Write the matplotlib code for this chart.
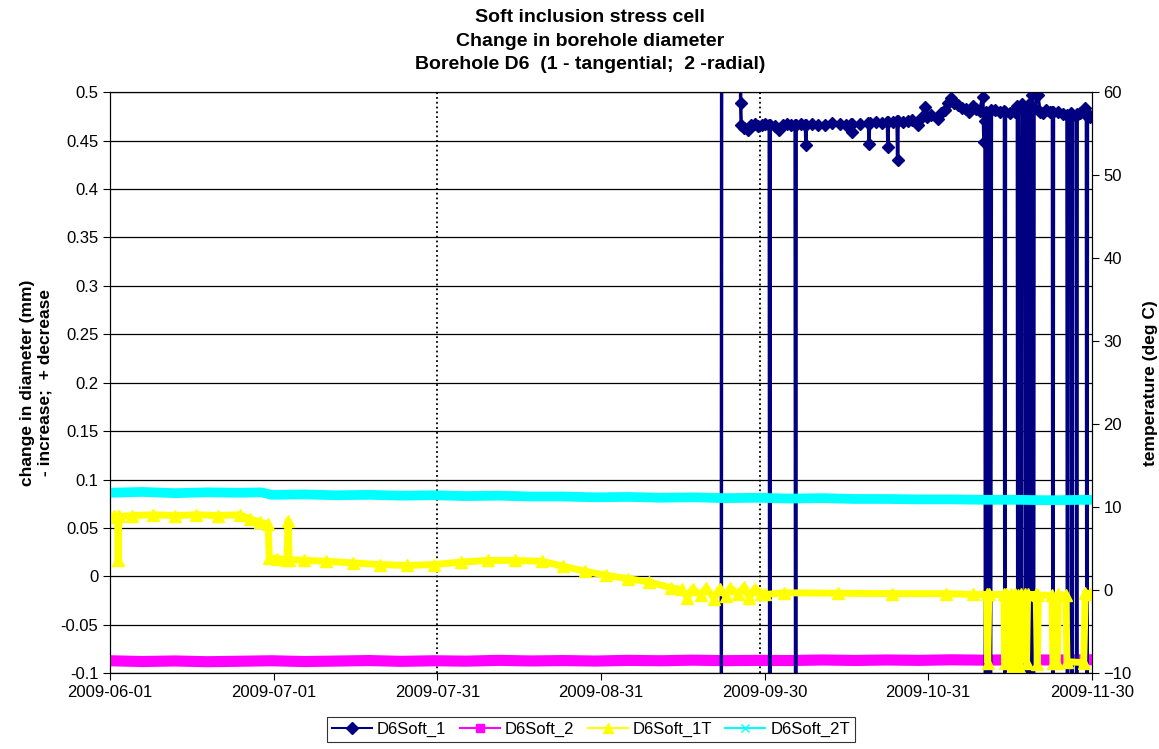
import numpy as np
import matplotlib
matplotlib.use('Agg')
from matplotlib import pyplot as plt
from matplotlib.lines import Line2D

# ---- data (days after 2009-06-01) ----
tick_labels = ['2009-06-01', '2009-07-01', '2009-07-31', '2009-08-31',
               '2009-09-30', '2009-10-31', '2009-11-30']

# D6Soft_1 (mm, left axis); -0.3 / 0.8 are off-scale readings
d1_days = [113.3, 113.4, 116.85, 116.9, 117.0, 117.6, 118.2, 118.9, 119.5, 120.2,
           120.8, 121.5, 122.2, 122.3, 122.4, 123.2, 124.0, 124.7, 125.5, 126.3,
           127.0, 127.1, 127.2, 128.1, 128.9, 129.0, 129.1, 130.1, 131.2, 132.5,
           133.8, 135.3, 136.4, 137.4, 137.5, 137.6, 139.0, 140.6, 140.7, 140.8,
           142.0, 143.1, 144.1, 144.2, 144.3, 145.1, 145.9, 146.0, 146.1, 147.0,
           148.0, 148.6, 149.7, 150.4, 151.0, 151.4, 152.2, 153.4, 154.1, 154.7,
           155.3, 155.9, 156.5, 157.2, 157.9, 158.6, 159.2, 159.9, 160.5, 161.2,
           161.8, 162.0, 162.2, 162.3, 162.4, 162.7, 162.8, 163.2, 163.4, 164.0,
           164.9, 165.8, 165.9, 166.0, 166.8, 167.7, 168.2, 168.3, 168.4, 169.0,
           169.1, 169.7, 169.8, 169.9, 170.4, 170.5, 170.6, 170.9, 171.2, 171.3,
           172.0, 172.4, 173.0, 173.5, 174.2, 174.7, 174.8, 174.9, 175.7, 176.6,
           177.4, 177.5, 177.6, 178.2, 178.3, 178.4, 179.1, 179.2, 179.3, 179.8,
           180.7, 181.0, 181.1, 181.2, 181.6]
d1_vals = [-0.3, 0.8, 0.8, 0.489, 0.466, 0.463, 0.461, 0.466, 0.467, 0.465,
           0.466, 0.467, 0.466, -0.3, 0.466, 0.465, 0.461, 0.466, 0.467, 0.466,
           0.466, -0.3, 0.466, 0.467, 0.466, 0.445, 0.466, 0.467, 0.466, 0.466,
           0.468, 0.467, 0.466, 0.467, 0.459, 0.467, 0.467, 0.468, 0.446, 0.468,
           0.469, 0.468, 0.469, 0.443, 0.469, 0.469, 0.470, 0.430, 0.470, 0.469,
           0.470, 0.471, 0.466, 0.473, 0.485, 0.474, 0.476, 0.472, 0.478, 0.482,
           0.489, 0.494, 0.489, 0.487, 0.484, 0.483, 0.480, 0.486, 0.483, 0.481,
           0.495, 0.449, 0.470, -0.3, 0.480, -0.3, 0.478, -0.3, 0.482, 0.482,
           0.479, 0.481, -0.3, 0.480, 0.478, 0.480, 0.486, -0.3, 0.484, -0.3,
           0.488, 0.483, -0.3, 0.482, 0.488, -0.3, 0.486, 0.497, -0.3, 0.484,
           0.497, 0.480, 0.478, 0.482, 0.479, 0.480, -0.3, 0.479, 0.479, 0.477,
           0.476, -0.3, 0.475, 0.478, -0.3, 0.476, 0.475, -0.3, 0.477, 0.478,
           0.484, 0.476, -0.3, 0.478, 0.474]

# D6Soft_2 (mm, left axis)
d2_days = [0, 6, 12, 18, 24, 30, 36, 42, 48, 54, 60, 66, 72, 78, 84, 90, 96,
           102, 108, 114, 120, 126, 132, 138, 144, 150, 156, 162, 168, 174, 181.6]
d2_vals = [-0.0870, -0.0878, -0.0872, -0.0880, -0.0875, -0.0870, -0.0878, -0.0873,
           -0.0868, -0.0876, -0.0870, -0.0874, -0.0866, -0.0872, -0.0868, -0.0873,
           -0.0866, -0.0870, -0.0864, -0.0869, -0.0866, -0.0868, -0.0862, -0.0867,
           -0.0862, -0.0866, -0.0860, -0.0864, -0.0859, -0.0862, -0.0860]

# D6Soft_1T (deg C, right axis)
t1_days = [0.0, 0.8, 1.4, 1.5, 1.6, 4, 8, 12, 16, 20, 24, 26, 27.8, 29.3, 29.5,
           31, 32.8, 33.0, 33.2, 36, 40, 45, 50, 55, 60, 65, 70, 75, 80, 84, 88,
           92, 96, 100, 104, 106, 107, 108, 109.5, 110.5, 112, 113, 114.2, 115,
           116.5, 117.5, 118.5, 119.5, 120.7, 121.5, 125, 135, 145, 155, 160,
           162.5, 162.7, 162.9, 165.7, 165.9, 166.1, 167.0, 167.2, 167.5, 167.7,
           168.4, 168.6, 168.8, 169.7, 169.9, 170.1, 171.7, 171.9, 172.1, 174.6,
           174.8, 175.6, 175.8, 177.2, 177.4, 180.5, 180.8, 181.6]
t1_vals = [8.8, 9.0, 8.9, 3.6, 8.9, 9.0, 9.1, 9.0, 9.1, 9.0, 9.1, 8.6, 8.2, 8.0, 3.9,
           3.8, 3.7, 8.4, 3.7, 3.6, 3.5, 3.3, 3.1, 3.0, 3.1, 3.4, 3.6, 3.6, 3.5, 2.9, 2.3,
           1.8, 1.4, 1.0, 0.3, 0.1, -0.9, 0.2, -0.6, 0.3, -1.0, 0.2, -0.7, 0.3,
           -0.5, 0.4, -0.9, 0.2, -0.4, -0.5, -0.3, -0.35, -0.4, -0.4, -0.5,
           -0.5, -8.7, -0.5, -0.5, -8.8, -0.5, -0.5, -9.3, -8.9, -0.5,
           -0.6, -9.5, -0.5, -0.5, -8.7, -0.5, -0.5, -8.9, -0.6, -0.6,
           -8.7, -8.8, -0.5, -0.6, -8.6, -8.7, -0.3, -0.4]

# D6Soft_2T (deg C, right axis)
t2_days = [0, 6, 12, 18, 24, 28, 30, 36, 42, 48, 54, 60, 66, 72, 78, 84, 90, 96,
           102, 108, 114, 120, 126, 132, 138, 144, 150, 156, 162, 168, 174, 181.6]
t2_vals = [11.75, 11.85, 11.7, 11.8, 11.75, 11.8, 11.5, 11.55, 11.45, 11.5, 11.4,
           11.45, 11.35, 11.4, 11.3, 11.3, 11.2, 11.25, 11.15, 11.2, 11.1, 11.15,
           11.05, 11.1, 11.0, 11.0, 10.95, 10.95, 10.9, 10.9, 10.85, 10.9]

# ---- figure ----
plt.rcParams['font.family'] = ['Liberation Sans', 'DejaVu Sans']
narrow = ['Liberation Sans Narrow', 'Liberation Sans', 'DejaVu Sans']

fig = plt.figure(figsize=(11.59, 7.49), dpi=100)
ax = fig.add_axes([0.095, 0.101, 0.847, 0.776])
ax2 = ax.twinx()

ax.plot(d2_days, d2_vals, color='#FF00FF', lw=8, marker='s', ms=5,
        solid_joinstyle='round', zorder=3)
ax.plot(d1_days, d1_vals, color='#000080', lw=2.5, marker='D', ms=6.5,
        zorder=4)

ax2.plot(t2_days, t2_vals, color='#00FFFF', lw=7, marker='x', ms=5,
         solid_joinstyle='round')
ax2.plot(t1_days, t1_vals, color='#FFFF00', lw=5, marker='^', ms=8,
         solid_joinstyle='round')

for d in [60.67, 120.5]:
    ax.axvline(d, color='black', ls=':', lw=1.3, zorder=2)

ax.set_xlim(0, 182)
ax.set_ylim(-0.1, 0.5)
ax2.set_ylim(-10, 60)
xt = np.linspace(0, 182, 7)
ax.set_xticks(xt)
ax.set_xticklabels(tick_labels)
yt = np.round(np.arange(-0.1, 0.501, 0.05), 2)
ax.set_yticks(yt)
ax.set_yticklabels([f'{v:g}' for v in yt])
ax2.set_yticks(np.arange(-10, 61, 10))
ax.grid(axis='y', color='black', lw=0.9)
ax.tick_params(labelsize=12, direction='out', length=5)
ax2.tick_params(labelsize=12, direction='out', length=5)
for sp in list(ax.spines.values()) + list(ax2.spines.values()):
    sp.set_color('black')

ax.set_ylabel('change in diameter (mm)\n- increase;  + decrease',
              fontsize=12.5, fontweight='bold', family=narrow, labelpad=6)
ax2.set_ylabel('temperature (deg C)', fontsize=12.5, fontweight='bold',
               family=narrow, labelpad=8)

fig.text(0.509, 0.977, 'Soft inclusion stress cell', ha='center', va='center',
         fontsize=14, fontweight='bold', family=narrow)
fig.text(0.509, 0.945, 'Change in borehole diameter', ha='center', va='center',
         fontsize=14, fontweight='bold', family=narrow)
fig.text(0.509, 0.914, 'Borehole D6  (1 - tangential;  2 -radial)', ha='center',
         va='center', fontsize=14, fontweight='bold', family=narrow)

handles = [Line2D([], [], color='#000080', marker='D', ms=6, lw=1.5),
           Line2D([], [], color='#FF00FF', marker='s', ms=6, lw=1.5),
           Line2D([], [], color='#FFFF00', marker='^', ms=7, lw=1.5),
           Line2D([], [], color='#00FFFF', marker='x', ms=6, lw=1.5)]
leg = fig.legend(handles, ['D6Soft_1', 'D6Soft_2', 'D6Soft_1T', 'D6Soft_2T'],
                 loc='center', bbox_to_anchor=(0.51, 0.026), ncol=4,
                 fontsize=12, frameon=True, fancybox=False, edgecolor='black',
                 handlelength=2.4, columnspacing=0.8, handletextpad=0.3,
                 borderpad=0.3)
leg.get_frame().set_linewidth(0.8)

fig.savefig('out.png', dpi=100)
